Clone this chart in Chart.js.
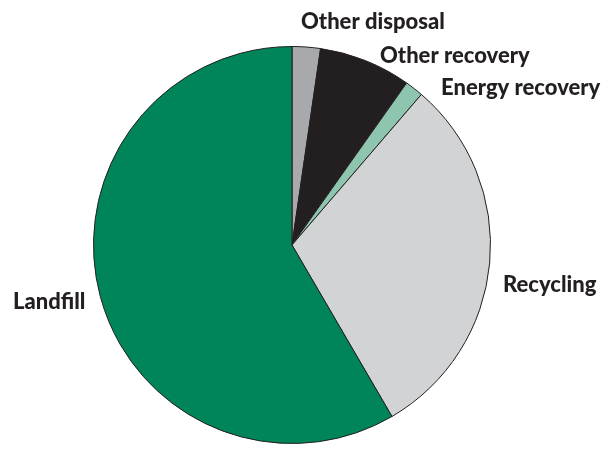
<!DOCTYPE html>
<html>
<head>
<meta charset="utf-8">
<script src="https://cdn.jsdelivr.net/npm/chart.js@4.4.0/dist/chart.umd.min.js"></script>
<style>
  html, body { margin: 0; padding: 0; background: #fff; }
  #wrap { width: 614px; height: 449px; }
</style>
</head>
<body>
<div id="wrap"><canvas id="pie" width="614" height="449"></canvas></div>
<script>
const categories = ['Other disposal', 'Other recovery', 'Energy recovery', 'Recycling', 'Landfill'];
const shares = [2.3, 7.5, 1.5, 30.3, 58.4];
const sliceColors = ['#a7a9ac', '#231f20', '#8dc5ae', '#d1d3d4', '#00845a'];

// where each label sits (left x, middle y)
const labelPos = [
    { x: 301, y: 22 },
    { x: 380, y: 56 },
    { x: 441, y: 88 },
    { x: 503, y: 285 },
    { x: 13, y: 302 }
];

const labelPlugin = {
    id: 'sliceLabels',
    afterDraw(chart) {
        const ctx = chart.ctx;
        ctx.save();
        ctx.font = '900 22px Lato, "Open Sans", sans-serif';
        ctx.fillStyle = '#231f20';
        ctx.textAlign = 'left';
        ctx.textBaseline = 'middle';
        categories.forEach((c, i) => {
            ctx.fillText(c, labelPos[i].x, labelPos[i].y);
        });
        ctx.restore();
    }
};

new Chart(document.getElementById('pie').getContext('2d'), {
    type: 'pie',
    data: {
        labels: categories,
        datasets: [{
            data: shares,
            backgroundColor: sliceColors,
            borderColor: '#231f20',
            borderWidth: 1
        }]
    },
    options: {
        responsive: false,
        animation: false,
        layout: { padding: { left: 93, right: 123, top: 46, bottom: 5 } },
        plugins: {
            legend: { display: false },
            tooltip: { enabled: false }
        }
    },
    plugins: [labelPlugin]
});
</script>
</body>
</html>
